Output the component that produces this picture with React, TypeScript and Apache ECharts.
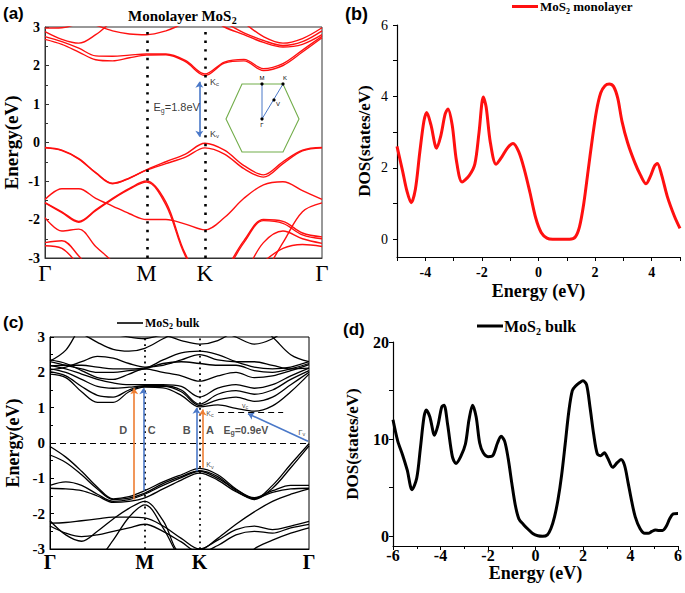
import React, { useEffect, useRef } from "react";
import * as echarts from "echarts";

// ---- k-path (Γ–M–K–Γ) ----
const kPath = [0, 0.0962, 0.1925, 0.2887, 0.3849, 0.4811, 0.5774, 0.6885, 0.7996, 0.9107, 1.0218, 1.1329, 1.244, 1.3551, 1.4662, 1.5774];
const kTickValues = [0, 0.5774, 0.9107, 1.5774];
const kTickLabels = ["Γ", "M", "K", "Γ"];

// ---- monolayer bands (eV) ----
const monoC1 = [2.68, 2.55, 2.35, 2.15, 2.12, 2.2, 2.27, 2.28, 2.1, 1.74, 2.06, 2.12, 1.87, 2.0, 2.35, 2.72];
const monoC2 = [2.75, 2.62, 2.45, 2.25, 2.24, 2.27, 2.3, 2.3, 2.13, 1.78, 2.09, 2.16, 1.92, 2.05, 2.4, 2.76];
const monoC3 = [2.88, 2.68, 2.58, 2.8, 3.15, 3.4, 3.4, 3.4, 3.4, 3.3, 3.0, 2.8, 2.6, 2.48, 2.55, 2.8];
const monoC4 = [3.3, 3.3, 3.2, 3.05, 2.9, 2.82, 2.8, 2.9, 3.1, 3.2, 3.1, 2.85, 2.65, 2.52, 2.62, 2.9];
const monoC5 = [2.97, 2.98, 3.1, 3.3, 3.5, 3.5, 3.5, 3.5, 3.5, 3.5, 3.4, 3.1, 2.75, 2.58, 2.7, 2.98];
const monoV1 = [-0.13, -0.2, -0.42, -0.78, -1.06, -0.92, -0.71, -0.5, -0.3, -0.02, -0.2, -0.6, -0.84, -0.5, -0.2, -0.13];
const monoV1b = [-0.14, -0.21, -0.43, -0.79, -1.07, -0.93, -0.72, -0.55, -0.38, -0.14, -0.3, -0.68, -0.9, -0.55, -0.22, -0.14];
const monoV2 = [-1.48, -1.2, -1.2, -1.45, -1.65, -1.85, -2.0, -2.0, -2.12, -2.27, -1.95, -1.45, -1.1, -1.02, -1.25, -1.48];
const monoV3 = [-1.56, -1.8, -2.05, -1.75, -1.45, -1.19, -1.0, -1.55, -2.9, -3.6, -3.3, -2.55, -2.0, -2.05, -2.35, -2.45];
const monoV3b = [-1.57, -1.82, -2.07, -1.77, -1.47, -1.21, -1.03, -1.62, -2.95, -3.6, -3.35, -2.6, -2.03, -2.1, -2.4, -2.5];
const monoV4 = [-1.95, -2.3, -2.25, -2.7, -3.1, -3.6, -3.8, -3.8, -3.8, -3.8, -3.8, -3.8, -3.4, -2.6, -1.8, -1.57];
const monoV5 = [-2.6, -2.55, -2.95, -3.5, -3.8, -3.8, -3.8, -3.8, -3.8, -3.8, -3.8, -3.4, -2.6, -2.3, -2.5, -2.62];
const monoV6 = [-2.68, -2.75, -3.2, -3.8, -3.8, -3.8, -3.8, -3.8, -3.8, -3.8, -3.8, -3.6, -3.1, -2.75, -2.65, -2.7];

// ---- bulk bands (eV) ----
const bulkC1 = [1.95, 1.85, 1.45, 1.15, 1.15, 1.45, 1.58, 1.56, 1.35, 1.02, 1.08, 0.98, 0.9, 1.05, 1.45, 1.95];
const bulkC2 = [2.02, 1.9, 1.6, 1.35, 1.3, 1.5, 1.6, 1.6, 1.45, 1.06, 1.22, 1.3, 1.18, 1.3, 1.65, 2.0];
const bulkC3 = [2.1, 2.0, 1.8, 1.6, 1.55, 1.58, 1.62, 1.62, 1.5, 1.1, 1.38, 1.48, 1.38, 1.5, 1.8, 2.05];
const bulkC4 = [2.2, 2.1, 1.95, 1.8, 1.7, 1.65, 1.65, 1.65, 1.6, 1.3, 1.55, 1.65, 1.55, 1.65, 1.9, 2.12];
const bulkC5 = [2.35, 2.25, 2.05, 1.85, 1.8, 1.95, 2.1, 2.0, 1.9, 1.75, 1.9, 2.0, 1.85, 1.9, 2.05, 2.22];
const bulkC6 = [2.3, 2.2, 2.1, 2.0, 2.0, 2.05, 2.1, 2.25, 2.3, 2.25, 2.2, 2.2, 2.05, 2.0, 2.1, 2.25];
const bulkC7 = [2.18, 2.2, 2.2, 2.15, 2.1, 2.1, 2.12, 2.35, 2.55, 2.6, 2.5, 2.3, 2.15, 2.1, 2.15, 2.3];
const bulkC8 = [2.07, 2.15, 2.3, 2.45, 2.4, 2.25, 2.15, 2.2, 2.35, 2.5, 2.35, 2.3, 2.3, 2.2, 2.1, 2.12];
const bulkC9 = [2.32, 2.63, 3.3, 3.5, 3.5, 3.5, 3.5, 3.5, 3.5, 3.5, 3.5, 3.5, 3.4, 3.0, 2.5, 2.3];
const bulkC10 = [3.4, 3.3, 3.1, 2.85, 2.65, 2.6, 2.68, 2.95, 3.2, 3.3, 3.2, 3.0, 2.8, 2.95, 3.3, 3.5];
const bulkC11 = [3.5, 3.5, 3.5, 3.3, 3.1, 3.0, 2.95, 3.05, 2.9, 2.8, 2.9, 3.2, 3.5, 3.5, 3.5, 3.5];
const bulkV1 = [-0.1, -0.4, -0.8, -1.25, -1.58, -1.52, -1.35, -1.1, -0.9, -0.72, -0.9, -1.3, -1.58, -1.2, -0.6, -0.02];
const bulkV2 = [-0.34, -0.55, -0.9, -1.3, -1.6, -1.56, -1.42, -1.15, -0.95, -0.78, -0.95, -1.35, -1.6, -1.28, -0.7, -0.08];
const bulkV3 = [-1.2, -1.1, -1.2, -1.45, -1.65, -1.6, -1.45, -1.2, -0.98, -0.8, -1.0, -1.32, -1.55, -1.35, -1.2, -1.2];
const bulkV4 = [-1.28, -1.3, -1.35, -1.5, -1.68, -1.65, -1.55, -1.3, -1.05, -0.85, -1.05, -1.38, -1.57, -1.4, -1.3, -1.28];
const bulkV5 = [-2.2, -2.6, -2.78, -2.5, -2.15, -1.85, -1.65, -2.2, -3.1, -3.05, -2.7, -2.3, -1.95, -1.65, -1.45, -1.3];
const bulkV6 = [-2.27, -2.25, -2.2, -2.15, -2.1, -2.1, -2.12, -2.35, -2.7, -3.0, -2.75, -2.45, -2.35, -2.45, -2.35, -2.22];
const bulkV7 = [-2.35, -2.55, -2.65, -2.6, -2.5, -2.4, -2.3, -2.5, -2.8, -3.1, -2.9, -2.6, -2.5, -2.55, -2.4, -2.3];
const bulkV8 = [-3.5, -3.5, -3.5, -3.3, -2.75, -2.1, -1.75, -2.4, -3.3, -3.6, -3.6, -3.6, -3.0, -2.75, -2.55, -2.4];

// ---- monolayer DOS ----
const monoDosE = [-5, -4.8, -4.65, -4.5, -4.35, -4.2, -4.05, -3.95, -3.8, -3.6, -3.45, -3.3, -3.2, -3.05, -2.9, -2.7, -2.45, -2.25, -2.1, -1.95, -1.85, -1.7, -1.5, -1.3, -1.1, -0.9, -0.7, -0.5, -0.3, -0.1, 0.1, 0.3, 0.5, 0.8, 1.1, 1.3, 1.45, 1.6, 1.75, 1.9, 2.05, 2.2, 2.35, 2.5, 2.65, 2.8, 2.95, 3.15, 3.4, 3.6, 3.8, 3.95, 4.1, 4.2, 4.35, 4.55, 4.8, 5.0];
const monoDos = [2.6, 1.9, 1.35, 1.02, 1.4, 2.4, 3.3, 3.55, 3.2, 2.55, 2.9, 3.5, 3.65, 3.2, 2.2, 1.6, 1.78, 2.1, 3.0, 3.98, 3.7, 2.7, 2.1, 2.3, 2.55, 2.68, 2.45, 1.95, 1.3, 0.6, 0.18, 0.03, 0.0, 0.0, 0.0, 0.06, 0.35, 1.0, 1.9, 2.8, 3.6, 4.1, 4.3, 4.35, 4.28, 3.95, 3.3, 2.7, 2.15, 1.8, 1.55, 1.75, 2.05, 2.12, 1.8, 1.2, 0.65, 0.3];

// ---- bulk DOS ----
const bulkDosE = [-6, -5.8, -5.6, -5.4, -5.2, -5.0, -4.85, -4.7, -4.6, -4.45, -4.25, -4.1, -3.95, -3.85, -3.7, -3.5, -3.35, -3.15, -2.95, -2.8, -2.65, -2.5, -2.35, -2.2, -2.0, -1.8, -1.6, -1.45, -1.3, -1.15, -1.0, -0.85, -0.7, -0.5, -0.3, -0.1, 0.1, 0.3, 0.5, 0.65, 0.8, 0.95, 1.1, 1.25, 1.4, 1.55, 1.7, 1.85, 2.0, 2.15, 2.3, 2.45, 2.6, 2.75, 2.9, 3.05, 3.25, 3.45, 3.6, 3.75, 3.9, 4.05, 4.2, 4.4, 4.6, 4.75, 4.9, 5.05, 5.2, 5.35, 5.5, 5.65, 5.8, 6.0];
const bulkDos = [12.0, 9.8, 8.4, 6.8, 4.8, 6.0, 9.0, 12.2, 13.0, 12.3, 10.4, 11.5, 13.3, 13.5, 11.5, 8.2, 7.5, 8.2, 9.5, 12.0, 13.5, 12.3, 9.6, 8.6, 8.2, 8.3, 9.6, 10.3, 9.8, 8.0, 5.5, 3.2, 1.8, 1.2, 0.7, 0.25, 0.05, 0.0, 0.15, 0.8, 2.0, 3.8, 6.3, 9.5, 12.8, 15.0, 15.5, 15.8, 16.0, 15.6, 13.2, 10.5, 8.5, 8.3, 8.6, 8.0, 7.1, 7.6, 7.9, 7.3, 5.5, 3.6, 2.0, 0.8, 0.3, 0.3, 0.5, 0.65, 0.6, 0.6, 1.0, 1.8, 2.3, 2.35];

// ---- axis tick values ----
const monoDosXLabels = [-4, -2, 0, 2, 4];
const monoDosXTicks = [-5, -4, -3, -2, -1, 0, 1, 2, 3, 4, 5];
const monoDosYLabels = [0, 2, 4, 6];
const monoDosYTicks = [0, 1, 2, 3, 4, 5, 6];
const bulkDosYLabels = [0, 10, 20];
const bulkDosYTicks = [0, 5, 10, 15, 20];

// ---- annotations (k, E) ----
const monoGapArrow = [[0.879, 0.15], [0.879, 1.58]];
const monoTexts = [
  { k: 0.75, e: 0.91, text: "E{s|g}=1.8eV", size: 11, bold: false },
  { k: 0.965, e: 1.58, text: "K{s|c}", size: 9, bold: false },
  { k: 0.965, e: 0.22, text: "K{s|v}", size: 9, bold: false },
];
const bulkArrowsOrange = [[[0.513, -1.6], [0.513, 1.55]], [[0.929, -0.7], [0.929, 0.95]]];
const bulkArrowsBlue = [[[0.568, -1.35], [0.568, 1.55]], [[0.892, -0.8], [0.892, 1.0]], [[1.571, 0.05], [1.206, 0.83]]];
const bulkValleyLine = [[1.024, 0.87], [1.42, 0.87]];
const bulkTexts = [
  { k: 0.446, e: 0.37, text: "D", size: 11, bold: true },
  { k: 0.619, e: 0.37, text: "C", size: 11, bold: true },
  { k: 0.833, e: 0.37, text: "B", size: 11, bold: true },
  { k: 0.974, e: 0.37, text: "A", size: 11, bold: true },
  { k: 1.193, e: 0.37, text: "E{s|g}=0.9eV", size: 10.5, bold: true },
  { k: 0.974, e: 0.84, text: "K{s|c}", size: 7, bold: false },
  { k: 0.974, e: -0.62, text: "K{s|v}", size: 7, bold: false },
  { k: 1.188, e: 1.06, text: "v{s|c}", size: 7, bold: false },
  { k: 1.533, e: 0.3, text: "Γ{s|v}", size: 8, bold: false },
];

const SERIF = "'Liberation Serif', 'Times New Roman', serif";
const SANS = "'Liberation Sans', Arial, sans-serif";
const RED = "#ff1010";
const BLUE = "#4a78c8";
const ORANGE = "#ee7d31";
const GREEN = "#72ad4a";

function bandSeries(bands: number[][], axis: number, color: string, width: number, name: string) {
  return bands.map((b) => ({
    type: "line",
    name,
    xAxisIndex: axis,
    yAxisIndex: axis,
    data: kPath.map((k, j) => [k, b[j]]),
    showSymbol: false,
    symbol: "none",
    smooth: 0.35,
    silent: true,
    clip: true,
    lineStyle: { color, width },
    itemStyle: { color },
    z: 2,
  }));
}

function textSeries(items: any[], axis: number, color: string) {
  return {
    type: "scatter",
    xAxisIndex: axis,
    yAxisIndex: axis,
    symbolSize: 1,
    silent: true,
    itemStyle: { color: "transparent" },
    z: 6,
    data: items.map((it) => ({
      value: [it.k, it.e],
      label: {
        show: true,
        position: "inside",
        formatter: it.text,
        fontSize: it.size,
        fontFamily: SANS,
        fontWeight: it.bold ? "bold" : "normal",
        color,
        rich: {
          s: {
            fontSize: Math.max(5.5, Math.round(it.size * 0.62)),
            fontFamily: SANS,
            fontWeight: it.bold ? "bold" : "normal",
            color,
            verticalAlign: "bottom",
            padding: [it.size * 0.5, 0, 0, 0],
          },
        },
      },
    })),
  };
}

function arrowLines(list: number[][][], color: string, both: boolean) {
  return list.map((pair) => [
    { coord: pair[0], symbol: both ? "arrow" : "none", symbolSize: 6, lineStyle: { color, width: 1.6, type: "solid" } },
    { coord: pair[1], symbol: "arrow", symbolSize: 6 },
  ]);
}

const legendRich = (size: number) => ({
  t: { fontFamily: SERIF, fontWeight: "bold", fontSize: size, color: "#000", lineHeight: size + 4, verticalAlign: "middle" },
  s: { fontFamily: SERIF, fontWeight: "bold", fontSize: Math.round(size * 0.65), color: "#000", verticalAlign: "bottom", padding: [size * 0.45, 0, 0, 0] },
});

const tickLabel = (size: number, bold = true) => ({
  fontFamily: SERIF,
  fontWeight: bold ? "bold" : "normal",
  fontSize: size,
  color: "#000",
});

function buildOption(): any {
  const monoBands = [monoC1, monoC2, monoC3, monoC4, monoC5, monoV1, monoV1b, monoV2, monoV3, monoV3b, monoV4, monoV5, monoV6];
  const bulkBands = [bulkC1, bulkC2, bulkC3, bulkC4, bulkC5, bulkC6, bulkC7, bulkC8, bulkC9, bulkC10, bulkC11, bulkV1, bulkV2, bulkV3, bulkV4, bulkV5, bulkV6, bulkV7, bulkV8];

  const monoSeries: any[] = bandSeries(monoBands, 0, RED, 1.4, "monolayer bands");
  monoSeries[0].markLine = {
    silent: true,
    symbol: ["none", "none"],
    label: { show: false },
    animation: false,
    data: [
      { xAxis: kTickValues[1], lineStyle: { color: "#000", width: 2.6, type: [2.4, 6.2] } },
      { xAxis: kTickValues[2], lineStyle: { color: "#000", width: 2.6, type: [2.4, 6.2] } },
      ...arrowLines([monoGapArrow], BLUE, true),
    ],
  };

  const bulkSeries: any[] = bandSeries(bulkBands, 2, "#000", 1.3, "MoS2 bulk");
  bulkSeries[0].markLine = {
    silent: true,
    symbol: ["none", "none"],
    label: { show: false },
    animation: false,
    data: [
      { xAxis: kTickValues[1], lineStyle: { color: "#000", width: 1.8, type: [1.8, 4] } },
      { xAxis: kTickValues[2], lineStyle: { color: "#000", width: 1.8, type: [1.8, 4] } },
      { yAxis: 0, lineStyle: { color: "#000", width: 1.2, type: [6, 4] } },
      [
        { coord: bulkValleyLine[0], lineStyle: { color: "#000", width: 1.2, type: [6, 4] } },
        { coord: bulkValleyLine[1] },
      ],
      ...arrowLines(bulkArrowsOrange, ORANGE, false),
      ...arrowLines(bulkArrowsBlue, BLUE, false),
    ],
  };

  const axisLineDark = { show: true, onZero: false, lineStyle: { color: "#333", width: 1 } };
  const axisLineBlack = (w: number) => ({ show: true, onZero: false, lineStyle: { color: "#000", width: w } });

  return {
    animation: false,
    backgroundColor: "#fff",
    title: {
      text: "{t|Monolayer MoS}{s|2}",
      left: 128,
      top: 6,
      padding: 0,
      textStyle: { rich: legendRich(15) },
    },
    legend: [
      {
        data: ["MoS2 monolayer"],
        left: 512,
        top: 0,
        padding: 0,
        icon: "rect",
        itemWidth: 26,
        itemHeight: 3,
        itemGap: 2,
        formatter: () => "{t|MoS}{s|2}{t| monolayer}",
        textStyle: { rich: legendRich(13), padding: [0, 0, 0, -3] },
        selectedMode: false,
      },
      {
        data: ["MoS2 bulk"],
        left: 117,
        top: 317,
        padding: 0,
        icon: "rect",
        itemWidth: 26,
        itemHeight: 1.6,
        formatter: () => "{t|MoS}{s|2}{t| bulk}",
        textStyle: { rich: legendRich(12), padding: [0, 0, 0, -3] },
        selectedMode: false,
      },
      {
        data: ["MoS2 bulk DOS"],
        left: 477,
        top: 318,
        padding: 0,
        icon: "rect",
        itemWidth: 26,
        itemHeight: 3,
        formatter: () => "{t|MoS}{s|2}{t| bulk}",
        textStyle: { rich: legendRich(16), padding: [0, 0, 0, -4] },
        selectedMode: false,
      },
    ],
    grid: [
      { left: 45, top: 27, width: 277, height: 231, show: true, borderColor: "#333", borderWidth: 1, backgroundColor: "transparent" },
      { left: 397, top: 25, width: 283, height: 232 },
      { left: 50, top: 337, width: 259, height: 212, show: true, borderColor: "#000", borderWidth: 1, backgroundColor: "transparent" },
      { left: 393, top: 342, width: 285, height: 204 },
    ],
    xAxis: [
      {
        gridIndex: 0, type: "value", min: 0, max: kTickValues[3],
        axisLine: axisLineDark, axisTick: { show: false }, splitLine: { show: false },
        axisLabel: {
          customValues: kTickValues,
          formatter: (v: number) => kTickLabels[kTickValues.findIndex((t) => Math.abs(t - v) < 1e-3)] ?? "",
          ...tickLabel(23, false), margin: 4,
        },
      },
      {
        gridIndex: 1, type: "value", min: -5, max: 5,
        axisLine: axisLineBlack(1.2),
        axisTick: { show: true, customValues: monoDosXTicks, length: 4, lineStyle: { color: "#000" } },
        splitLine: { show: false },
        axisLabel: { customValues: monoDosXLabels, ...tickLabel(14), margin: 8 },
        name: "Energy (eV)", nameLocation: "middle", nameGap: 25,
        nameTextStyle: { fontFamily: SERIF, fontWeight: "bold", fontSize: 18, color: "#000" },
      },
      {
        gridIndex: 2, type: "value", min: 0, max: kTickValues[3],
        axisLine: axisLineBlack(1), axisTick: { show: false }, splitLine: { show: false },
        axisLabel: {
          customValues: kTickValues,
          formatter: (v: number) => kTickLabels[kTickValues.findIndex((t) => Math.abs(t - v) < 1e-3)] ?? "",
          ...tickLabel(20, true), margin: 3,
        },
      },
      {
        gridIndex: 3, type: "value", min: -6, max: 6, interval: 2,
        axisLine: axisLineBlack(1.2),
        axisTick: { show: true, length: 4, lineStyle: { color: "#000" } },
        minorTick: { show: true, splitNumber: 2, length: 3, lineStyle: { color: "#000" } },
        splitLine: { show: false },
        axisLabel: { ...tickLabel(16), margin: 1 },
        name: "Energy (eV)", nameLocation: "middle", nameGap: 14,
        nameTextStyle: { fontFamily: SERIF, fontWeight: "bold", fontSize: 18, color: "#000" },
      },
    ],
    yAxis: [
      {
        gridIndex: 0, type: "value", min: -3, max: 3, interval: 1,
        axisLine: axisLineDark,
        axisTick: { show: true, inside: true, length: 4, lineStyle: { color: "#333" } },
        minorTick: { show: true, splitNumber: 2, length: 3, lineStyle: { color: "#333" } },
        splitLine: { show: false },
        axisLabel: { ...tickLabel(14), margin: 5 },
        name: "Energy(eV)", nameLocation: "middle", nameGap: 24,
        nameTextStyle: { fontFamily: SERIF, fontWeight: "bold", fontSize: 19, color: "#000" },
      },
      {
        gridIndex: 1, type: "value", min: -0.5, max: 6,
        axisLine: axisLineBlack(1.2),
        axisTick: { show: true, customValues: monoDosYTicks, length: 4, lineStyle: { color: "#000" } },
        splitLine: { show: false },
        axisLabel: { customValues: monoDosYLabels, ...tickLabel(14, false), margin: 9 },
        name: "DOS(states/eV)", nameLocation: "middle", nameGap: 24,
        nameTextStyle: { fontFamily: SERIF, fontWeight: "bold", fontSize: 17, color: "#000" },
      },
      {
        gridIndex: 2, type: "value", min: -3, max: 3, interval: 1,
        axisLine: axisLineBlack(1),
        axisTick: { show: true, inside: true, length: 4, lineStyle: { color: "#000" } },
        minorTick: { show: true, splitNumber: 2, length: 3, lineStyle: { color: "#000" } },
        splitLine: { show: false },
        axisLabel: { ...tickLabel(15), margin: 5 },
        name: "Energy(eV)", nameLocation: "middle", nameGap: 28,
        nameTextStyle: { fontFamily: SERIF, fontWeight: "bold", fontSize: 18, color: "#000" },
      },
      {
        gridIndex: 3, type: "value", min: -1, max: 20,
        axisLine: axisLineBlack(1.2),
        axisTick: { show: true, customValues: bulkDosYTicks, length: 4, lineStyle: { color: "#000" } },
        splitLine: { show: false },
        axisLabel: { customValues: bulkDosYLabels, ...tickLabel(16), margin: 4 },
        name: "DOS(states/eV)", nameLocation: "middle", nameGap: 32,
        nameTextStyle: { fontFamily: SERIF, fontWeight: "bold", fontSize: 17, color: "#000" },
      },
    ],
    graphic: [
      { type: "text", left: 3, top: 5, style: { text: "(a)", font: `bold 17px ${SANS}`, fill: "#000" } },
      { type: "text", left: 345, top: 5, style: { text: "(b)", font: `bold 18px ${SANS}`, fill: "#000" } },
      { type: "text", left: 3, top: 314, style: { text: "(c)", font: `bold 17px ${SANS}`, fill: "#000" } },
      { type: "text", left: 343, top: 321, style: { text: "(d)", font: `bold 17px ${SANS}`, fill: "#000" } },
      // Brillouin-zone inset
      { type: "polygon", shape: { points: [[242, 84], [283, 84], [299, 119], [283, 152], [242, 152], [226, 119]] }, style: { fill: "none", stroke: GREEN, lineWidth: 1.1 }, z: 10 },
      { type: "polyline", shape: { points: [[262, 84], [262, 119], [283, 84]] }, style: { fill: "none", stroke: BLUE, lineWidth: 1 }, z: 11 },
      { type: "circle", shape: { cx: 262, cy: 84, r: 1.6 }, style: { fill: "#000" }, z: 12 },
      { type: "circle", shape: { cx: 283, cy: 84, r: 1.6 }, style: { fill: "#000" }, z: 12 },
      { type: "circle", shape: { cx: 262, cy: 119, r: 1.6 }, style: { fill: "#000" }, z: 12 },
      { type: "circle", shape: { cx: 274, cy: 100, r: 1.6 }, style: { fill: "#000" }, z: 12 },
      { type: "text", x: 262, y: 81, style: { text: "M", font: `6px ${SANS}`, fill: "#000", align: "center", verticalAlign: "bottom" }, z: 12 },
      { type: "text", x: 285, y: 81, style: { text: "K", font: `6px ${SANS}`, fill: "#000", align: "center", verticalAlign: "bottom" }, z: 12 },
      { type: "text", x: 262, y: 122, style: { text: "Γ", font: `6px ${SANS}`, fill: "#000", align: "center", verticalAlign: "top" }, z: 12 },
      { type: "text", x: 276, y: 101, style: { text: "V", font: `6px ${SANS}`, fill: "#000", align: "left", verticalAlign: "top" }, z: 12 },
    ],
    series: [
      ...monoSeries,
      textSeries(monoTexts, 0, "#000"),
      {
        type: "line", name: "MoS2 monolayer", xAxisIndex: 1, yAxisIndex: 1,
        data: monoDosE.map((e, i) => [e, monoDos[i]]),
        showSymbol: false, symbol: "none", smooth: 0.3,
        lineStyle: { color: RED, width: 3 }, itemStyle: { color: RED },
      },
      ...bulkSeries,
      textSeries(bulkTexts, 2, "#222"),
      {
        type: "line", name: "MoS2 bulk DOS", xAxisIndex: 3, yAxisIndex: 3,
        data: bulkDosE.map((e, i) => [e, bulkDos[i]]),
        showSymbol: false, symbol: "none", smooth: 0.3,
        lineStyle: { color: "#000", width: 3 }, itemStyle: { color: "#000" },
      },
    ],
  };
}

export default function App() {
  const ref = useRef<HTMLDivElement>(null);
  useEffect(() => {
    const chart = echarts.init(ref.current as HTMLDivElement, null, { renderer: "svg" });
    chart.setOption(buildOption());
    return () => chart.dispose();
  }, []);
  return (
    <div
      ref={ref}
      style={{ position: "absolute", left: 0, top: 0, width: 685, height: 593, background: "#fff" }}
    />
  );
}
